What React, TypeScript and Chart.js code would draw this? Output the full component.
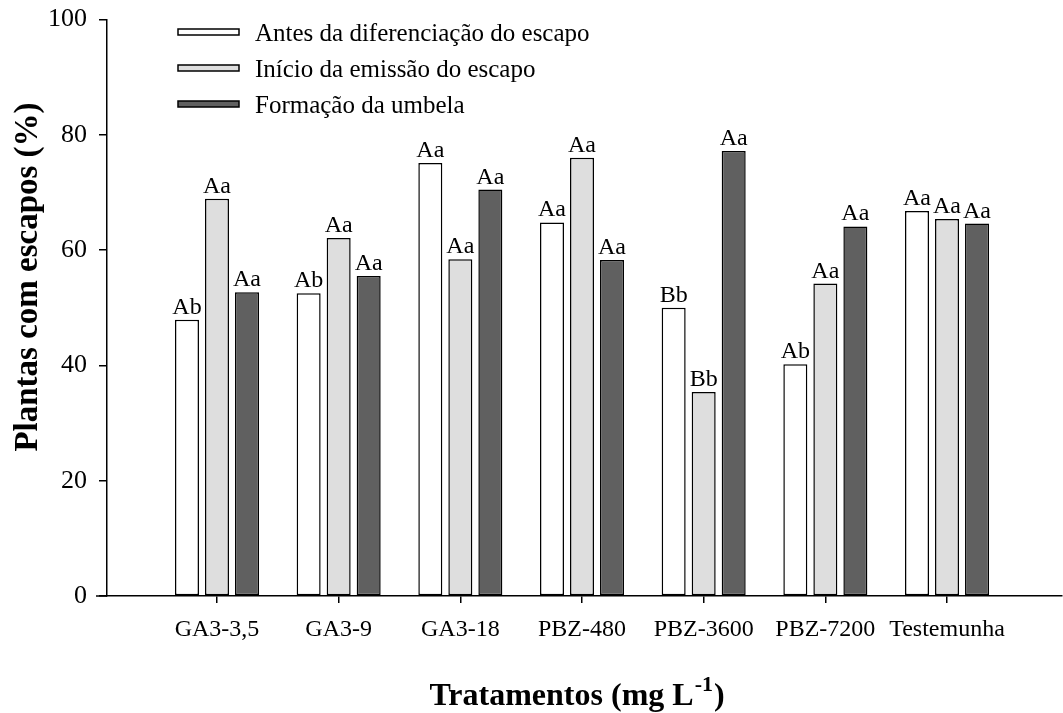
import React, { useEffect, useRef } from 'react';
import { Chart, registerables } from 'chart.js';

Chart.register(...registerables);

const categories = ['GA3-3,5', 'GA3-9', 'GA3-18', 'PBZ-480', 'PBZ-3600', 'PBZ-7200', 'Testemunha'];
const seriesNames = ['Antes da diferenciação do escapo', 'Início da emissão do escapo', 'Formação da umbela'];
const antes = [47.9, 52.5, 75.1, 64.8, 50.0, 40.2, 66.8];
const inicio = [68.9, 62.1, 58.4, 76.0, 35.4, 54.2, 65.4];
const formacao = [52.7, 55.5, 70.5, 58.3, 77.2, 64.1, 64.6];
const antesLetters = ['Ab', 'Ab', 'Aa', 'Aa', 'Bb', 'Ab', 'Aa'];
const inicioLetters = ['Aa', 'Aa', 'Aa', 'Aa', 'Bb', 'Aa', 'Aa'];
const formacaoLetters = ['Aa', 'Aa', 'Aa', 'Aa', 'Aa', 'Aa', 'Aa'];
const yTicks = [0, 20, 40, 60, 80, 100];
const yTitle = 'Plantas com escapos (%)';
const xTitleMain = 'Tratamentos (mg L';
const xTitleSup = '-1';
const xTitleEnd = ')';

const colors = ['#ffffff', '#dedede', '#606060'];
const SERIF = '"Liberation Serif", "Times New Roman", serif';

const letters = [antesLetters, inicioLetters, formacaoLetters];

const annotationsPlugin = {
  id: 'annotations',
  afterDatasetsDraw(chart: any) {
    const ctx = chart.ctx;
    ctx.save();
    ctx.fillStyle = '#000';
    ctx.font = `24px ${SERIF}`;
    ctx.textAlign = 'center';
    ctx.textBaseline = 'alphabetic';
    chart.data.datasets.forEach((_: any, i: number) => {
      const meta = chart.getDatasetMeta(i);
      meta.data.forEach((bar: any, j: number) => {
        ctx.fillText(letters[i][j], bar.x, bar.y - 6);
      });
    });
    ctx.restore();
  },
  afterDraw(chart: any) {
    const ctx = chart.ctx;
    const area = chart.chartArea;
    ctx.save();
    // x-axis extension to the left of the y axis
    ctx.strokeStyle = '#000';
    ctx.lineWidth = 1.5;
    ctx.beginPath();
    ctx.moveTo(area.left - 11, area.bottom);
    ctx.lineTo(area.left, area.bottom);
    ctx.stroke();

    // legend
    chart.data.datasets.forEach((ds: any, i: number) => {
      const cy = 32 + i * 36;
      ctx.fillStyle = ds.backgroundColor;
      ctx.fillRect(178, cy - 3, 61, 6);
      ctx.strokeStyle = '#000';
      ctx.lineWidth = 1.5;
      ctx.strokeRect(178, cy - 3, 61, 6);
      ctx.fillStyle = '#000';
      ctx.font = `25px ${SERIF}`;
      ctx.textAlign = 'left';
      ctx.textBaseline = 'alphabetic';
      ctx.fillText(ds.label, 255, cy + 9);
    });

    // y title
    ctx.save();
    ctx.font = `bold 33px ${SERIF}`;
    ctx.fillStyle = '#000';
    ctx.translate(37, 277);
    ctx.rotate(-Math.PI / 2);
    ctx.textAlign = 'center';
    ctx.textBaseline = 'alphabetic';
    ctx.fillText(yTitle, 0, 0);
    ctx.restore();

    // x title with superscript
    ctx.fillStyle = '#000';
    ctx.textAlign = 'left';
    ctx.textBaseline = 'alphabetic';
    const mainFont = `bold 32px ${SERIF}`;
    const supFont = `bold 22px ${SERIF}`;
    ctx.font = mainFont;
    const w1 = ctx.measureText(xTitleMain).width;
    const w3 = ctx.measureText(xTitleEnd).width;
    ctx.font = supFont;
    const w2 = ctx.measureText(xTitleSup).width;
    const total = w1 + w2 + w3 + 2;
    let x = 577 - total / 2;
    const base = 705;
    ctx.font = mainFont;
    ctx.fillText(xTitleMain, x, base);
    x += w1 + 1;
    ctx.font = supFont;
    ctx.fillText(xTitleSup, x, base - 14);
    x += w2 + 1;
    ctx.font = mainFont;
    ctx.fillText(xTitleEnd, x, base);
    ctx.restore();
  },
};

export default function App() {
  const canvasRef = useRef<HTMLCanvasElement | null>(null);

  useEffect(() => {
    if (!canvasRef.current) return;
    const series = [antes, inicio, formacao];
    const chart = new Chart(canvasRef.current, {
      type: 'bar',
      data: {
        datasets: series.map((vals, i) => ({
          label: seriesNames[i],
          data: vals.map((v, j) => ({ x: j, y: v })),
          backgroundColor: colors[i],
          borderColor: '#000',
          borderWidth: 1.5,
          borderSkipped: false,
          categoryPercentage: 0.74,
          barPercentage: 0.8,
        })),
      },
      options: {
        responsive: false,
        animation: false,
        layout: { padding: { left: 0, right: 1, top: 19.5, bottom: 0 } },
        plugins: {
          legend: { display: false },
          tooltip: { enabled: false },
          title: { display: false },
        },
        scales: {
          x: {
            type: 'linear',
            min: -0.904,
            max: 6.945,
            offset: false,
            afterBuildTicks: (s: any) => {
              s.ticks = categories.map((_, i) => ({ value: i }));
            },
            afterFit: (s: any) => {
              s.height = 117;
              s.paddingLeft = 0;
              s.paddingRight = 0;
            },
            ticks: {
              callback: (v: any) => categories[Math.round(Number(v))] ?? '',
              font: { family: SERIF, size: 24 },
              color: '#000',
              padding: 12,
              maxRotation: 0,
              autoSkip: false,
            },
            grid: {
              display: true,
              offset: false,
              drawOnChartArea: false,
              drawTicks: true,
              tickLength: 7,
              color: '#000',
              lineWidth: 1.5,
            },
            border: { display: true, color: '#000', width: 1.5 },
          },
          y: {
            type: 'linear',
            min: 0,
            max: 100,
            afterBuildTicks: (s: any) => {
              s.ticks = yTicks.map((v) => ({ value: v }));
            },
            afterFit: (s: any) => {
              s.width = 107;
              s.paddingTop = 0;
              s.paddingBottom = 0;
            },
            ticks: {
              font: { family: SERIF, size: 26 },
              color: '#000',
              padding: 12,
            },
            grid: {
              display: true,
              offset: false,
              drawOnChartArea: false,
              drawTicks: true,
              tickLength: 8,
              color: '#000',
              lineWidth: 1.5,
            },
            border: { display: true, color: '#000', width: 1.5 },
          },
        },
      } as any,
      plugins: [annotationsPlugin],
    });
    return () => chart.destroy();
  }, []);

  return (
    <div style={{ position: 'fixed', left: 0, top: 0, width: 1063, height: 713, background: '#fff' }}>
      <canvas ref={canvasRef} width={1063} height={713} style={{ display: 'block' }} />
    </div>
  );
}
